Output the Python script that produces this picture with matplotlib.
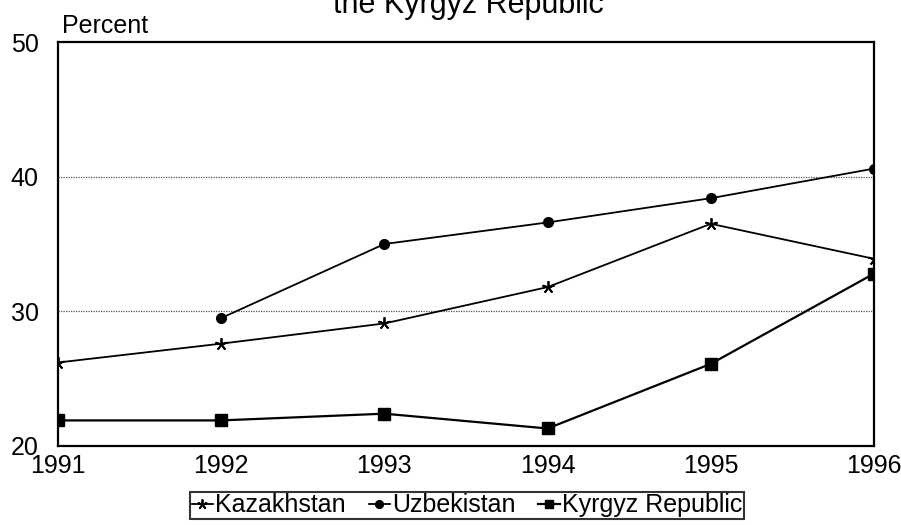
import numpy as np
import matplotlib
matplotlib.use("Agg")
import matplotlib.pyplot as plt

plt.rcParams["font.family"] = ["Liberation Sans", "DejaVu Sans"]

years = [1991, 1992, 1993, 1994, 1995, 1996]
kazakhstan = [26.2, 27.6, 29.1, 31.8, 36.5, 33.9]
uzbekistan = [np.nan, 29.5, 35.0, 36.6, 38.4, 40.6]
kyrgyz = [21.9, 21.9, 22.4, 21.3, 26.1, 32.8]

fig = plt.figure(figsize=(9.01, 5.25), dpi=100)
ax = fig.add_axes([58 / 901, 79 / 525, 816 / 901, 404 / 525])

ax.plot(years, kazakhstan, color="black", lw=1.3, marker=(5, 2, 0),
        markersize=9, markeredgewidth=1.3, label="Kazakhstan")
ax.plot(years, uzbekistan, color="black", lw=1.3, marker="o",
        markersize=7, label="Uzbekistan")
ax.plot(years, kyrgyz, color="black", lw=1.6, marker="s",
        markersize=8, label="Kyrgyz Republic")

ax.set_xlim(1991, 1996)
ax.set_ylim(20, 50)
ax.set_yticks([20, 30, 40, 50])
ax.set_xticks(years)
ax.tick_params(axis="both", length=0, labelsize=18)
ax.tick_params(axis="y", pad=14)
ax.tick_params(axis="x", pad=6)

for y in [30, 40]:
    ax.axhline(y, color="#555555", lw=0.9, ls=(0, (1, 1)), zorder=0)

for s in ax.spines.values():
    s.set_linewidth(1.6)

ax.text(0.005, 1.01, "Percent", transform=ax.transAxes, fontsize=18,
        ha="left", va="bottom")

fig.text(468 / 901, 1 - 13 / 525, "the Kyrgyz Republic", fontsize=22,
         ha="center", va="baseline")

leg = fig.legend(loc="upper center", bbox_to_anchor=(467 / 901, 1 - 492 / 525),
                 ncol=3, fontsize=18, frameon=True, fancybox=False,
                 edgecolor="black", handlelength=0.85, handletextpad=0.1,
                 columnspacing=0.9, borderpad=0.05, borderaxespad=0,
                 markerscale=0.8)
leg.get_frame().set_linewidth(1.5)

fig.savefig("out.png", dpi=100)
